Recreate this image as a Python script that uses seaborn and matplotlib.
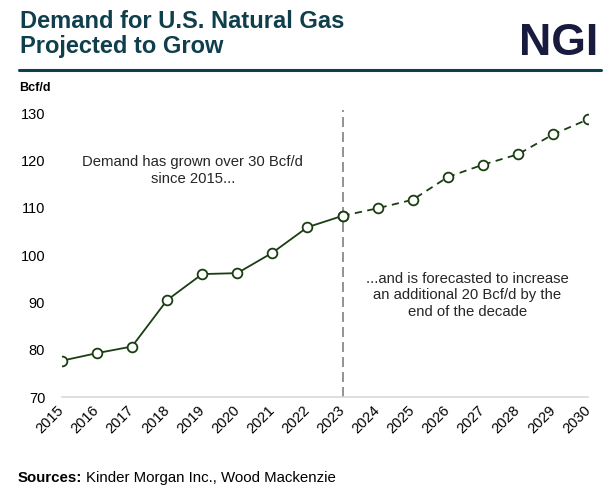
import matplotlib
matplotlib.use("Agg")
import matplotlib.pyplot as plt
import seaborn as sns
import pandas as pd
from matplotlib.lines import Line2D

years_hist = [2015, 2016, 2017, 2018, 2019, 2020, 2021, 2022, 2023]
demand_hist = [77.7, 79.3, 80.7, 90.5, 96.0, 96.2, 100.5, 105.9, 108.3]
years_fcst = [2023, 2024, 2025, 2026, 2027, 2028, 2029, 2030]
demand_fcst = [108.3, 109.9, 111.7, 116.5, 119.1, 121.3, 125.5, 128.7]
yticks = [70, 80, 90, 100, 110, 120, 130]
xticks = list(range(2015, 2031))

sns.set_theme(style="white")
plt.rcParams['font.family'] = ['Liberation Sans', 'DejaVu Sans']

GREEN = "#1b3d12"
TEAL = "#0f3e4c"
NAVY = "#181a3e"

fig = plt.figure(figsize=(6.12, 4.94), dpi=100)
ax = fig.add_axes([0.101, 0.196, 0.860, 0.575])

hist = pd.DataFrame({"year": years_hist, "value": demand_hist})
fcst = pd.DataFrame({"year": years_fcst, "value": demand_fcst})

sns.lineplot(data=hist, x="year", y="value", ax=ax, color=GREEN, lw=1.3,
             marker="o", markersize=7, markerfacecolor="white",
             markeredgecolor=GREEN, markeredgewidth=1.3, zorder=4)
sns.lineplot(data=fcst, x="year", y="value", ax=ax, color=GREEN, lw=1.3,
             linestyle=(0, (4, 3)), marker="o", markersize=7,
             markerfacecolor="white", markeredgecolor=GREEN,
             markeredgewidth=1.3, zorder=4)

ax.set_xlim(2015, 2030)
ax.set_ylim(70, 130)
ax.set_yticks(yticks)
ax.set_xticks(xticks)
ax.set_xticklabels([str(x) for x in xticks], rotation=45, fontsize=10.5,
                   color="black", ha="right", va="center",
                   rotation_mode="anchor")
ax.set_yticklabels([str(y) for y in yticks], fontsize=10.5, color="black")
ax.tick_params(axis="y", pad=12, length=0)
ax.tick_params(axis="x", pad=8, length=0)
ax.set_xlabel("")
ax.set_ylabel("")
for s in ["top", "right", "left"]:
    ax.spines[s].set_visible(False)
ax.spines["bottom"].set_color("#d9d9d9")
ax.spines["bottom"].set_linewidth(1.2)

ax.plot([2023, 2023], [70, 130.6], color="#808080", lw=1.2,
        linestyle=(0, (6, 3)), clip_on=False, zorder=2)

ax.text(2018.73, 117.9, "Demand has grown over 30 Bcf/d\nsince 2015...",
        ha="center", va="center", fontsize=10.7, linespacing=1.2)
ax.text(2026.55, 91.5,
        "...and is forecasted to increase\nan additional 20 Bcf/d by the\nend of the decade",
        ha="center", va="center", fontsize=10.7, linespacing=1.2)

fig.text(20/612, 1 - 28/494, "Demand for U.S. Natural Gas",
         ha="left", va="baseline", fontsize=17, fontweight="bold",
         color=TEAL)
fig.text(20/612, 1 - 53/494, "Projected to Grow",
         ha="left", va="baseline", fontsize=17, fontweight="bold",
         color=TEAL)
fig.text(598/612, 1 - 55/494, "NGI", ha="right", va="baseline", fontsize=32,
         fontweight="bold", color=NAVY)
fig.add_artist(Line2D([19/612, 601/612], [1 - 70/494, 1 - 70/494],
                      color=TEAL, lw=2.2))
fig.text(19/612, 1 - 91/494, "Bcf/d", ha="left", va="baseline", fontsize=9,
         fontweight="bold", color="black")
t1 = fig.text(18/612, 1 - 482/494, "Sources:", ha="left", va="baseline",
              fontsize=10.8, fontweight="bold", color="black")
fig.canvas.draw()
bb = t1.get_window_extent()
fig.text((bb.x1 + 4) / 612, 1 - 482/494, "Kinder Morgan Inc., Wood Mackenzie",
         ha="left", va="baseline", fontsize=10.8, color="black")

fig.savefig("out.png", dpi=100)
